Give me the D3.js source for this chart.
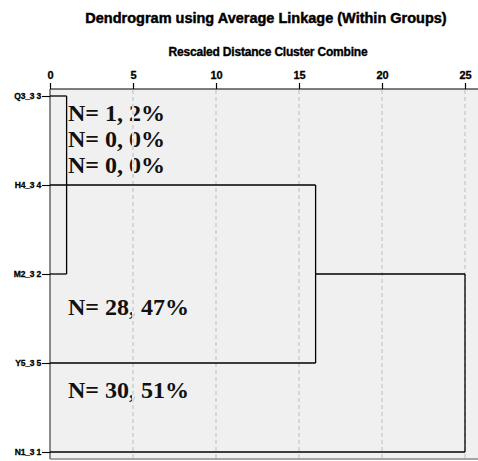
<!DOCTYPE html>
<html>
<head>
<meta charset="utf-8">
<script src="https://cdn.jsdelivr.net/npm/d3@7"></script>
<style>
  body { margin: 0; background: #fff; }
  svg { display: block; }
</style>
</head>
<body>
<div id="chart"></div>
<script>
// leaves in display order, top to bottom
const leaves = ['Q3_3 3', 'H4_3 4', 'M2_3 2', 'Y5_3 5', 'N1_3 1'];
// merges: two members (leaf names or earlier merge index) and rescaled distance
const merges = [
    {a: 'Q3_3 3', b: 'M2_3 2', dist: 1},
    {a: 'H4_3 4', b: 'Y5_3 5', dist: 16},
    {a: 1, b: 'N1_3 1', dist: 25}
];
const tick_values = [0, 5, 10, 15, 20, 25];
// N annotations, placed next to leaf rows (fractional index along the leaf axis)
const annot_texts = ['N= 1, 2%', 'N= 0, 0%', 'N= 0, 0%', 'N= 28, 47%', 'N= 30, 51%'];
const annot_rows = [0.19, 0.48, 0.78, 2.37, 3.30];

const width = 478, height = 461;
const plot = {left: 50, right: 478, top: 89, bottom: 459};
const sans = 'Liberation Sans, Arial, sans-serif';

let svg = d3.select('#chart').append('svg')
    .attr('width', width)
    .attr('height', height);

let x = d3.scaleLinear().domain([0, 25]).range([50, 465]);
let y = d3.scalePoint().domain(leaves).range([96, 452]);
let y_row = d3.scaleLinear().domain([0, leaves.length - 1]).range([96, 452]);

// background
svg.append('rect')
    .attr('x', plot.left).attr('y', plot.top)
    .attr('width', plot.right - plot.left).attr('height', plot.bottom - plot.top)
    .attr('fill', '#f0f0f0');

// titles
svg.append('text')
    .attr('x', 266).attr('y', 23)
    .attr('text-anchor', 'middle')
    .style('font-family', sans)
    .style('font-weight', 'bold').style('font-size', '14.5px')
    .attr('stroke', '#000').attr('stroke-width', 0.45)
    .text('Dendrogram using Average Linkage (Within Groups)');

svg.append('text')
    .attr('x', 268).attr('y', 56)
    .attr('text-anchor', 'middle')
    .style('font-family', sans)
    .style('font-weight', 'bold').style('font-size', '12px')
    .style('letter-spacing', '-0.2px')
    .attr('stroke', '#000').attr('stroke-width', 0.35)
    .text('Rescaled Distance Cluster Combine');

// annotations (gridlines drawn on top of them, like the original)
annot_texts.forEach(function (t, i) {
    svg.append('text')
        .attr('x', 68).attr('y', y_row(annot_rows[i]) + 8)
        .style('font-family', 'Liberation Serif, Times New Roman, serif')
        .style('font-weight', 'bold').style('font-size', '24px')
        .attr('fill', '#111')
        .text(t);
});

// gridlines: a thin background strip, then grey dashes
let grid_ticks = tick_values.filter(d => d > 0);
svg.append('g').selectAll('line')
    .data(grid_ticks)
    .join('line')
    .attr('x1', d => x(d)).attr('x2', d => x(d))
    .attr('y1', plot.top + 1).attr('y2', plot.bottom)
    .attr('stroke', '#f0f0f0')
    .attr('stroke-width', 2.2);
svg.append('g').selectAll('line')
    .data(grid_ticks)
    .join('line')
    .attr('x1', d => x(d)).attr('x2', d => x(d))
    .attr('y1', plot.top + 1).attr('y2', plot.bottom)
    .attr('stroke', '#c8c8c8')
    .attr('stroke-width', 1.3)
    .attr('stroke-dasharray', '4,3');

// top axis
let axis = svg.append('g')
    .attr('transform', 'translate(0,' + plot.top + ')')
    .call(d3.axisTop(x).tickValues(tick_values).tickSize(6).tickPadding(4));
axis.select('.domain').remove();
axis.selectAll('line').attr('stroke-width', 1.2);
axis.selectAll('text')
    .style('font-family', sans)
    .style('font-weight', 'bold').style('font-size', '11px')
    .attr('stroke', '#000').attr('stroke-width', 0.3)
    .attr('fill', '#000');

svg.append('line')
    .attr('x1', plot.left).attr('x2', plot.right)
    .attr('y1', plot.top).attr('y2', plot.top)
    .attr('stroke', '#000').attr('stroke-width', 1.2);

// left border and bottom border
svg.append('line')
    .attr('x1', plot.left).attr('x2', plot.left)
    .attr('y1', plot.top).attr('y2', plot.bottom)
    .attr('stroke', '#666').attr('stroke-width', 1.5);
svg.append('line')
    .attr('x1', plot.left).attr('x2', plot.right)
    .attr('y1', plot.bottom).attr('y2', plot.bottom)
    .attr('stroke', '#888').attr('stroke-width', 1.5);

// leaf labels with small ticks
let leaf_axis = svg.append('g')
    .attr('transform', 'translate(' + plot.left + ',0)')
    .call(d3.axisLeft(y).tickSize(8).tickPadding(1));
leaf_axis.select('.domain').remove();
leaf_axis.selectAll('line').attr('stroke-width', 1.1);
leaf_axis.selectAll('text')
    .style('font-family', sans)
    .style('font-weight', 'bold').style('font-size', '8.5px')
    .style('letter-spacing', '-0.2px')
    .attr('stroke', '#000').attr('stroke-width', 0.3)
    .attr('fill', '#000');

// dendrogram links
let nodes = [];
function pos(m) {
    if (typeof m === 'number') return nodes[m];
    return {d: 0, yy: y(m)};
}
let link_g = svg.append('g')
    .attr('fill', 'none').attr('stroke', '#000').attr('stroke-width', 1.3);
merges.forEach(function (m) {
    let a = pos(m.a), b = pos(m.b);
    [a, b].forEach(function (c) {
        link_g.append('line')
            .attr('x1', x(c.d)).attr('x2', x(m.dist))
            .attr('y1', c.yy).attr('y2', c.yy);
    });
    link_g.append('line')
        .attr('x1', x(m.dist)).attr('x2', x(m.dist))
        .attr('y1', a.yy).attr('y2', b.yy);
    nodes.push({d: m.dist, yy: (a.yy + b.yy) / 2});
});
</script>
</body>
</html>
